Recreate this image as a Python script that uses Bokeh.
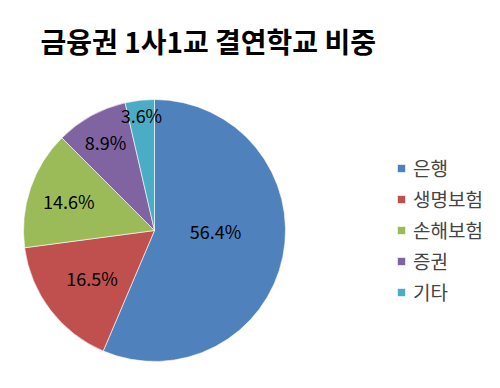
import math
from bokeh.plotting import figure
from bokeh.models import ColumnDataSource, Label, Legend, LegendItem
from bokeh.embed import file_html
from bokeh.resources import INLINE
from bokeh.core.properties import value

# ---- data ----
title_text = "금융권 1사1교 결연학교 비중"
categories = ["은행", "생명보험", "손해보험", "증권", "기타"]
shares = [56.4, 16.5, 14.6, 8.9, 3.6]
colors = ["#4F81BD", "#C0504D", "#9BBB59", "#8064A2", "#4BACC6"]

# ---- layout (pixel space) ----
W, H = 484, 372
cx, cy, R = 154, H - 230, 131
label_r = [0.466, 0.60, 0.69, 0.77, 0.885]   # label distance as fraction of radius
label_dang = [11.5, 0, 0, 0, 0]               # label angle tweak (degrees, ccw)
FONT = "Noto Sans CJK KR"

total = sum(shares)
starts, ends, lx, ly, texts = [], [], [], [], []
cum = 0.0
for i, s in enumerate(shares):
    a0 = math.pi / 2 - 2 * math.pi * cum / total
    cum += s
    a1 = math.pi / 2 - 2 * math.pi * cum / total
    starts.append(a0)
    ends.append(a1)
    mid = (a0 + a1) / 2 + math.radians(label_dang[i])
    lx.append(cx + R * label_r[i] * math.cos(mid))
    ly.append(cy + R * label_r[i] * math.sin(mid))
    texts.append(f"{s:.1f}%")

src = ColumnDataSource(dict(start=starts, end=ends, color=colors, cat=categories))
lsrc = ColumnDataSource(dict(x=lx, y=ly, t=texts))

p = figure(width=W, height=H, x_range=(0, W), y_range=(0, H),
           output_backend="svg", toolbar_location=None,
           min_border=0, min_border_left=0, min_border_right=0,
           min_border_top=0, min_border_bottom=0)
p.axis.visible = False
p.grid.visible = False
p.outline_line_color = None
p.background_fill_color = "white"

r = p.wedge(x=cx, y=cy, radius=R, start_angle="start", end_angle="end",
            direction="clock", fill_color="color", line_color="white",
            line_width=0.6, source=src)

p.text(x="x", y="y", text="t", source=lsrc, text_align="center",
       text_baseline="middle", text_font=value(FONT), text_font_size="18px",
       text_color="black")

items = [LegendItem(label=c, renderers=[r], index=i) for i, c in enumerate(categories)]
legend = Legend(items=items, location=(396, 65), orientation="vertical",
                glyph_width=10, glyph_height=10, label_standoff=7,
                label_text_font=FONT, label_text_font_size="19px",
                label_height=31, spacing=0, padding=0, margin=0,
                border_line_color=None, background_fill_alpha=0)
p.add_layout(legend, "center")

p.add_layout(Label(x=40, y=H - 40, x_units="screen", y_units="screen",
                   text=title_text, text_font=FONT, text_font_size="28px",
                   text_font_style="bold", text_baseline="middle",
                   text_color="black"))

open("out.html", "w").write(file_html(p, INLINE))
